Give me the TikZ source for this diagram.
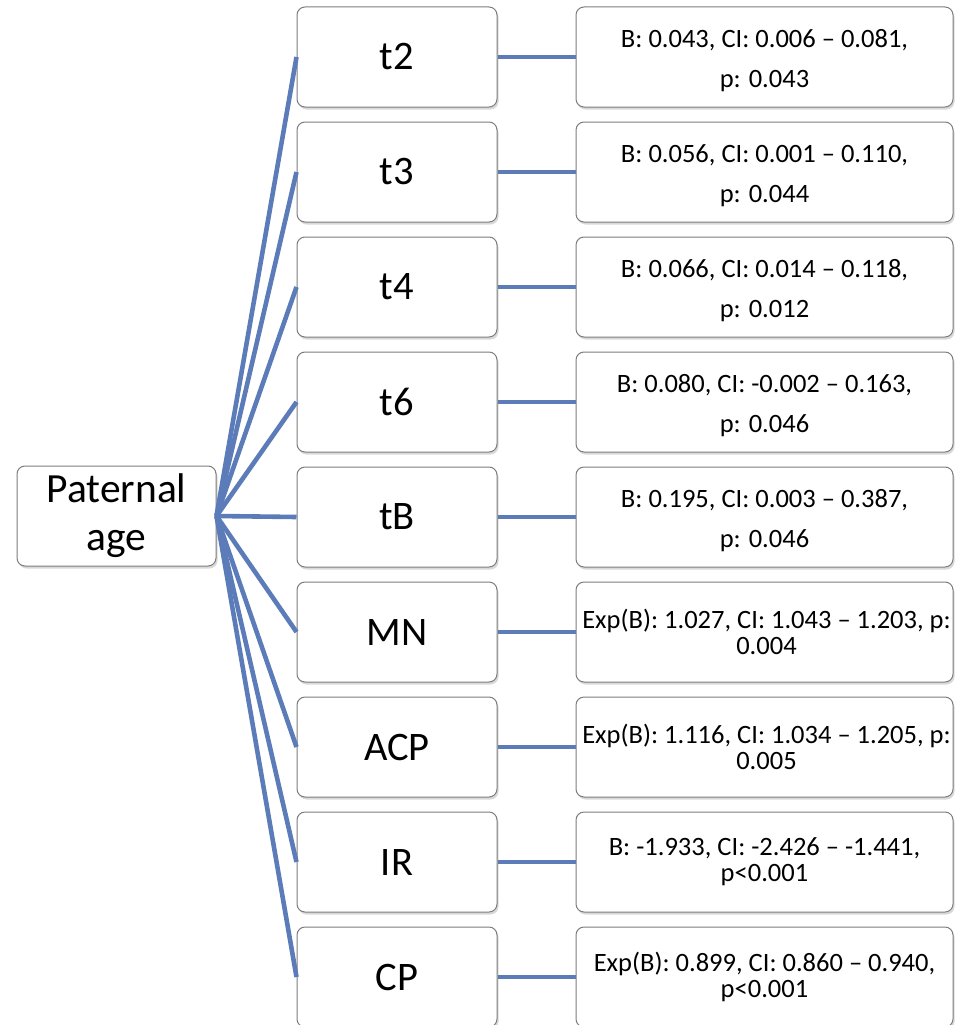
\documentclass[tikz,border=0pt]{standalone}
\usepackage{fontspec}
\setmainfont{Carlito}
\usetikzlibrary{shadows}
\definecolor{linkblue}{RGB}{91,124,184}
\definecolor{boxgray}{RGB}{125,125,125}
\begin{document}
\begin{tikzpicture}[x=1pt,y=-1pt,
  box/.style={draw=boxgray, line width=1pt, rounded corners=8pt, fill=white,
    minimum height=100pt, inner sep=0pt,
    drop shadow={shadow xshift=1.5pt, shadow yshift=-2.5pt, opacity=0.3}},
  leftbox/.style={box, minimum width=199pt, align=center,
    font=\fontsize{41.5}{48}\selectfont},
  midbox/.style={box, minimum width=200pt, font=\fontsize{40.5}{48}\selectfont},
  rightbox/.style={box, minimum width=377pt},
  btext/.style={inner sep=0pt, align=center, font=\fontsize{26.5}{40}\selectfont},
  etext/.style={inner sep=0pt, align=center, font=\fontsize{26.5}{26}\selectfont},
  link/.style={draw=linkblue, line width=4.6pt}]
\useasboundingbox (0,0) rectangle (955,1025);

\node[leftbox] (pa) at (116.5,516) {Paternal\\age};

\node[midbox] (m1) at (397,57)  {t2};
\node[midbox] (m2) at (397,172) {t3};
\node[midbox] (m3) at (397,287) {t4};
\node[midbox] (m4) at (397,402) {t6};
\node[midbox] (m5) at (397,517) {tB};
\node[midbox] (m6) at (397,632) {MN};
\node[midbox] (m7) at (397,747) {ACP};
\node[midbox] (m8) at (397,862) {IR};
\node[midbox] (m9) at (397,977) {CP};

\node[rightbox] (r1) at (764.5,57)  {};
\node[rightbox] (r2) at (764.5,172) {};
\node[rightbox] (r3) at (764.5,287) {};
\node[rightbox] (r4) at (764.5,402) {};
\node[rightbox] (r5) at (764.5,517) {};
\node[rightbox] (r6) at (764.5,632) {};
\node[rightbox] (r7) at (764.5,747) {};
\node[rightbox] (r8) at (764.5,862) {};
\node[rightbox] (r9) at (764.5,977) {};

\node[btext] (tx1) at ([yshift=-4pt]r1.center) {B: 0.043, CI: 0.006 – 0.081,\\p: 0.043};
\node[btext] (tx2) at ([yshift=-4pt]r2.center) {B: 0.056, CI: 0.001 – 0.110,\\p: 0.044};
\node[btext] (tx3) at ([yshift=-4pt]r3.center) {B: 0.066, CI: 0.014 – 0.118,\\p: 0.012};
\node[btext] (tx4) at ([yshift=-4pt]r4.center) {B: 0.080, CI: -0.002 – 0.163,\\p: 0.046};
\node[btext] (tx5) at ([yshift=-4pt]r5.center) {B: 0.195, CI: 0.003 – 0.387,\\p: 0.046};
\node[etext] (tx6) at ([xshift=2pt]r6.center) {Exp(B): 1.027, CI: 1.043 – 1.203, p:\\0.004};
\node[etext] (tx7) at ([xshift=2pt]r7.center) {Exp(B): 1.116, CI: 1.034 – 1.205, p:\\0.005};
\node[etext] (tx8) at (r8.center) {B: -1.933, CI: -2.426 – -1.441,\\p<0.001};
\node[etext] (tx9) at (r9.center) {Exp(B): 0.899, CI: 0.860 – 0.940,\\p<0.001};

\foreach \i in {1,...,9}{
  \draw[link] (pa.east) -- (m\i.west);
  \draw[link] (m\i.east) -- (r\i.west);
}
\end{tikzpicture}
\end{document}
